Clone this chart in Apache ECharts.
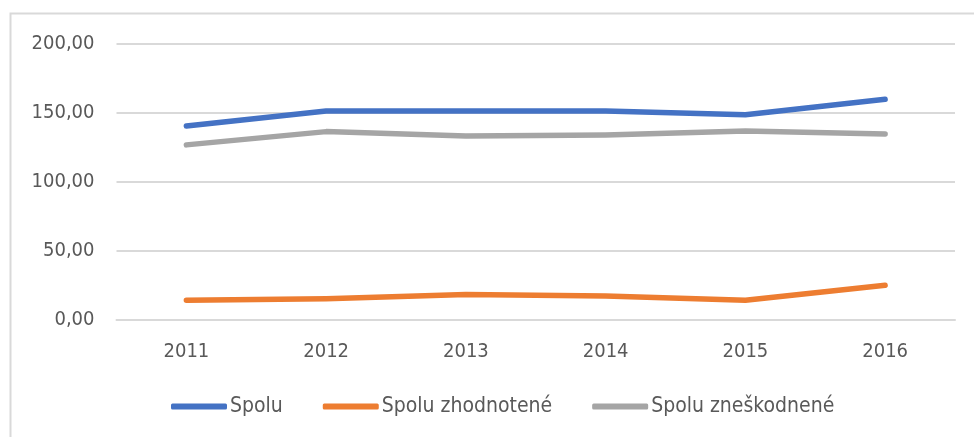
<!DOCTYPE html>
<html>
<head>
<meta charset="utf-8">
<script src="https://cdn.jsdelivr.net/npm/echarts@6/dist/echarts.min.js"></script>
<style>
html, body { margin: 0; padding: 0; background: #fff; }
#chart { width: 974px; height: 437px; }
</style>
</head>
<body>
<div id="chart"></div>
<script>
const years = ['2011', '2012', '2013', '2014', '2015', '2016'];
const spolu = [140.0, 150.9, 150.9, 150.9, 148.3, 159.4];
const spoluZhodnotene = [13.8, 14.9, 17.9, 16.8, 13.8, 24.6];
const spoluZneskodnene = [126.4, 136.0, 132.8, 133.6, 136.5, 134.3];

const fontFam = '"DejaVu Sans Condensed", "DejaVu Sans", sans-serif';

var myChart = echarts.init(document.getElementById('chart'));

function lineSeries(name, data, color) {
    return {
        type: 'line',
        name: name,
        data: data,
        symbol: 'none',
        lineStyle: { width: 5.5, color: color, cap: 'round', join: 'round' },
        itemStyle: { color: color }
    };
}

var option = {
    animation: false,
    graphic: [{
        type: 'rect',
        shape: { x: 10.5, y: 13.5, width: 1000, height: 500 },
        style: { fill: 'none', stroke: '#d9d9d9', lineWidth: 2 },
        silent: true
    }],
    grid: { left: 116.5, right: 19, top: 43.3, bottom: 117.7 },
    legend: {
        top: 391,
        left: 166,
        itemWidth: 56,
        itemHeight: 6,
        itemGap: 40,
        icon: 'roundRect',
        textStyle: { fontSize: 21, color: '#595959', fontFamily: fontFam, padding: [0, 0, 0, -2] }
    },
    xAxis: {
        type: 'category',
        data: years,
        boundaryGap: true,
        axisLine: { lineStyle: { color: '#d9d9d9', width: 2 } },
        axisTick: { show: false },
        axisLabel: { margin: 22, fontSize: 20, color: '#595959', fontFamily: fontFam }
    },
    yAxis: {
        type: 'value',
        min: 0,
        max: 200,
        interval: 50,
        axisLine: { show: false },
        axisTick: { show: false },
        splitLine: { lineStyle: { color: '#d9d9d9', width: 2 } },
        axisLabel: {
            margin: 22,
            fontSize: 20,
            color: '#595959',
            fontFamily: fontFam,
            formatter: v => v.toFixed(2).replace('.', ',')
        }
    },
    series: [
        lineSeries('Spolu', spolu, '#4472C4'),
        lineSeries('Spolu zhodnotené', spoluZhodnotene, '#ED7D31'),
        lineSeries('Spolu zneškodnené', spoluZneskodnene, '#A5A5A5')
    ]
};

myChart.setOption(option);
</script>
</body>
</html>
